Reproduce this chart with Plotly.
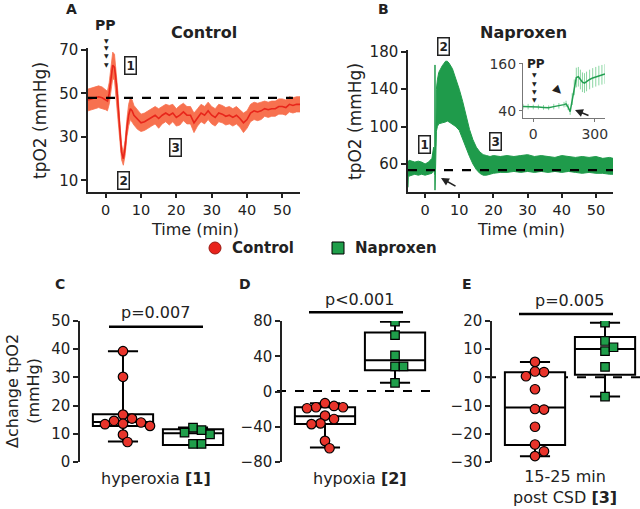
import plotly.graph_objects as go

# ---------------- data ----------------
# Panel A: control tpO2 time course (mean and half-width of band)
ctrl_t = [-5, -4, -3, -2, -1, 0, 0.5, 1, 1.5, 2, 2.5, 3, 3.5, 4, 4.5, 5, 5.5, 6, 6.5, 7, 7.5,
          8, 9, 10, 11, 12, 13, 14, 15, 16, 17, 18, 19, 20, 21, 22, 23, 24, 25, 26, 27, 28, 29,
          30, 31, 32, 33, 34, 35, 36, 37, 38, 39, 40, 41, 42, 43, 44, 45, 46, 47, 48, 49, 50,
          51, 52, 53, 54, 55]
ctrl_mean = [47, 47.5, 48, 48.5, 48, 47, 46.5, 50, 57, 63, 62, 55, 45, 33, 23, 20, 25, 34, 40, 43, 42,
             40, 38, 36.5, 37, 38, 39, 40, 38.5, 40, 41, 40, 41, 39, 40, 41.5, 40, 40, 36.5, 39, 41, 40, 42,
             40, 39, 41, 40.5, 39.5, 40, 39, 40, 38.5, 36.5, 38, 41, 42, 41.5, 42, 43, 42.5, 43, 43, 44, 44,
             43.5, 45, 44.5, 45, 45]
ctrl_hw = [5, 5, 5, 5, 5, 4.5, 4.5, 5, 6, 6, 6, 5, 5, 4, 3.5, 3, 3.5, 4, 5, 5, 5,
           4.5, 4.5, 4, 4, 4, 4, 4, 4.5, 4, 4, 4.5, 4, 4, 4.5, 4, 4, 4, 4.5, 4, 4, 4, 4,
           4, 4, 4, 4, 4, 4, 4, 4, 4, 4.5, 4, 4, 4, 4, 4, 3.5, 3.5, 3.5, 3.5, 3.5, 3.5,
           3.5, 3.5, 3.5, 3.5, 3.5]
ctrl_baseline = 48

# Panel B: naproxen tpO2 time course (upper / lower envelope)
nap_t = [-5, -4.9, -4.7, -4, -3, -2, -1, 0, 1, 2, 2.5, 2.85, 2.9, 2.95, 3.1, 3.3, 3.6, 4, 5, 6,
         6.5, 7, 8, 9, 10, 11, 12, 13, 14, 15, 16, 17, 18, 19, 20, 22, 24, 26, 28, 30, 32, 34,
         36, 38, 40, 42, 44, 46, 48, 50, 52, 54, 55]
nap_hi = [62, 62, 64, 63, 62, 63, 62, 60, 62, 66, 78, 72, 166, 75, 80, 140, 150, 158, 165, 170,
          170, 168, 162, 152, 140, 127, 112, 97, 86, 78, 73, 70, 69, 68, 69, 68, 69, 68, 69, 70,
          68, 69, 68, 67, 69, 68, 67, 68, 67, 68, 66, 67, 66]
nap_lo = [35, 46, 47, 48, 49, 48, 49, 48, 49, 50, 54, 48, 32, 50, 60, 95, 100, 103, 104, 105,
          106, 105, 103, 100, 96, 88, 78, 68, 60, 54, 50, 48, 48, 49, 50, 51, 51, 52, 51, 52,
          51, 52, 51, 52, 51, 52, 51, 50, 51, 50, 50, 49, 49]
nap_baseline = 53.5

# Inset of panel B (seconds)
ins_t = [-50, -25, 0, 25, 50, 75, 100, 125, 150, 160, 170, 180, 190, 200, 210, 220, 230, 240,
         250, 260, 275, 290, 305, 320, 335, 350]
ins_y = [51, 51, 50, 50, 49, 48, 51, 53, 56, 58, 50, 38, 70, 100, 125, 127, 120, 113, 111, 115,
         120, 124, 127, 130, 132, 134]
ins_err = [7, 7, 6, 6, 6, 6, 7, 7, 7, 8, 8, 8, 15, 20, 25, 25, 25, 25, 25, 25, 25, 25, 25, 25, 25, 25]

# Panels C-E: individual values
c_ctrl = [39.3, 30.2, 16.8, 15.4, 14.0, 13.4, 12.8, 13.6, 14.6, 9.7, 7.1]
c_nap = [12.2, 10.4, 9.8, 11.3, 6.4, 6.4]
d_ctrl = [-13.3, -17.9, -19, -17.9, -16.4, -27.4, -36.2, -37, -31.2, -56, -64.4]
d_nap = [79.2, 64, 41.1, 28.6, 28.6, 9.9]
e_ctrl = [5.5, 1.9, 2.1, 0.4, -4.2, -11.2, -11.4, -17.5, -23.8, -26.2, -27.9]
e_nap = [19.4, 12.9, 9.3, 10.7, 3.7, -6.8]

# Box statistics [control, naproxen]: lower whisker, q1, median, q3, upper whisker
c_box = dict(lo=[7.3, 6.0], q1=[12.8, 6.0], med=[14.2, 10.2], q3=[16.9, 11.6], hi=[39.3, 12.2])
d_box = dict(lo=[-63.6, 10], q1=[-37, 24], med=[-28.2, 35.4], q3=[-17.9, 67], hi=[-13.3, 79.2])
e_box = dict(lo=[-28, -6.8], q1=[-24, 0.95], med=[-10.7, 10.1], q3=[1.8, 14.3], hi=[5.5, 19.4])

p_texts = ["p=0.007", "p<0.001", "p=0.005"]
cat_labels = ["hyperoxia <b>[1]</b>", "hypoxia <b>[2]</b>", "15-25 min<br>post CSD <b>[3]</b>"]

# ---------------- layout helpers ----------------
W, H = 640, 509
FONT = "DejaVu Sans"
RED_BAND, RED_LINE = "#f7714f", "#e8261b"
GREEN = "#1f9b4b"
RED_DOT, GREEN_DOT = "#e8342b", "#1f9e4a"
AX = "#222222"


def fx(px):
    return px / W


def fy(py):
    return 1 - py / H


fig = go.Figure()

# ---- Panel A ----
upper = [m + h for m, h in zip(ctrl_mean, ctrl_hw)]
lower = [m - h for m, h in zip(ctrl_mean, ctrl_hw)]
fig.add_trace(go.Scatter(x=ctrl_t + ctrl_t[::-1], y=upper + lower[::-1], fill="toself",
                         fillcolor=RED_BAND, line=dict(width=0.8, color=RED_BAND),
                         mode="lines", xaxis="x", yaxis="y", hoverinfo="skip"))
fig.add_trace(go.Scatter(x=ctrl_t, y=ctrl_mean, mode="lines", line=dict(color=RED_LINE, width=1.6),
                         xaxis="x", yaxis="y"))

# ---- Panel B ----
fig.add_trace(go.Scatter(x=nap_t + nap_t[::-1], y=nap_hi + nap_lo[::-1], fill="toself",
                         fillcolor=GREEN, line=dict(width=1, color=GREEN),
                         mode="lines", xaxis="x2", yaxis="y2", hoverinfo="skip"))

# ---- Inset ----
fig.add_trace(go.Scatter(x=ins_t, y=ins_y, mode="lines", line=dict(color="#239f52", width=1.5),
                         error_y=dict(type="data", array=ins_err, color="#8ad6a2", thickness=1, width=0),
                         xaxis="x3", yaxis="y3"))


# ---- Panels C-E ----
def swarm(vals, ppu, d=9.0, upx=70.0):
    order = sorted(range(len(vals)), key=lambda i: vals[i], reverse=True)
    placed = []
    off = [0.0] * len(vals)
    s = d * 0.5
    for i in order:
        y = vals[i] * ppu
        k = 0
        done = False
        while not done:
            cands = [0.0] if k == 0 else [k * s, -k * s]
            for c in cands:
                if all((c - a) ** 2 + (y - b) ** 2 >= (d * 0.92) ** 2 for a, b in placed):
                    off[i] = c / upx
                    placed.append((c, y))
                    done = True
                    break
            k += 1
    return off


panels = [
    ("x4", "y4", c_ctrl, c_nap, c_box, 141 / 50),
    ("x5", "y5", d_ctrl, d_nap, d_box, 141 / 160),
    ("x6", "y6", e_ctrl, e_nap, e_box, 141 / 50),
]
for xa, ya, vc, vn, bx, ppu in panels:
    for j in range(2):
        fig.add_trace(go.Box(x=[j], q1=[bx["q1"][j]], median=[bx["med"][j]], q3=[bx["q3"][j]],
                             lowerfence=[bx["lo"][j]], upperfence=[bx["hi"][j]],
                             width=0.86, whiskerwidth=0.5, fillcolor="white",
                             line=dict(color="black", width=2), boxpoints=False,
                             xaxis=xa, yaxis=ya))
    oc = swarm(vc, ppu)
    on = swarm(vn, ppu, d=8.5)
    fig.add_trace(go.Scatter(x=[0 + o for o in oc], y=vc, mode="markers",
                             marker=dict(symbol="circle", size=9.5, color=RED_DOT,
                                         line=dict(color="black", width=1.2)),
                             xaxis=xa, yaxis=ya))
    fig.add_trace(go.Scatter(x=[1 + o for o in on], y=vn, mode="markers",
                             marker=dict(symbol="square", size=8.5, color=GREEN_DOT,
                                         line=dict(color="black", width=1.2)),
                             xaxis=xa, yaxis=ya))

# ---------------- axes ----------------
def axis_style(**kw):
    d = dict(showline=True, linecolor=AX, linewidth=1.5, ticks="outside", ticklen=5,
             tickwidth=1.5, tickcolor=AX, showgrid=False, zeroline=False,
             tickfont=dict(family=FONT, size=15, color="#222"), fixedrange=True)
    d.update(kw)
    return d


def dom(a, b, top, bottom):
    return [fx(a), fx(b)], [fy(bottom), fy(top)]


xdA, ydA = dom(88, 300, 48, 192)
xdB, ydB = dom(408, 613, 50, 192)
xdI, ydI = dom(523, 605, 63, 118)
xdC, ydC = dom(80, 226, 321, 462)
xdD, ydD = dom(282, 428, 321, 462)
xdE, ydE = dom(492, 638, 321, 462)

time_tick_font = dict(family=FONT, size=14.5, color="#222")
cat_range = [-0.614, 1.471]
layout = dict(
    width=W, height=H, margin=dict(l=0, r=0, t=0, b=0, autoexpand=False),
    paper_bgcolor="white", plot_bgcolor="rgba(0,0,0,0)", showlegend=False,
    font=dict(family=FONT, color="#222"),
    xaxis=axis_style(domain=xdA, range=[-5, 55], tickvals=[0, 10, 20, 30, 40, 50], anchor="y",
                     ticklen=4, tickfont=time_tick_font),
    yaxis=axis_style(domain=ydA, range=[4.7, 70.9], tickvals=[10, 30, 50, 70], anchor="x"),
    xaxis2=axis_style(domain=xdB, range=[-5, 55], tickvals=[0, 10, 20, 30, 40, 50], anchor="y2",
                      ticklen=4, tickfont=time_tick_font),
    yaxis2=axis_style(domain=ydB, range=[30, 182], tickvals=[60, 100, 140, 180], anchor="x2"),
    xaxis3=axis_style(domain=xdI, range=[-50, 350], tickvals=[0, 300], anchor="y3", linewidth=1,
                      linecolor="#777", tickcolor="#777", ticklen=3, tickwidth=1,
                      tickfont=dict(family=FONT, size=14, color="#333")),
    yaxis3=axis_style(domain=ydI, range=[22, 162], tickvals=[40, 160], anchor="x3", linewidth=1,
                      linecolor="#777", tickcolor="#777", ticklen=3, tickwidth=1,
                      tickfont=dict(family=FONT, size=14, color="#333")),
    xaxis4=dict(domain=xdC, range=cat_range, visible=False, anchor="y4", fixedrange=True),
    yaxis4=axis_style(domain=ydC, range=[0, 50], tickvals=[0, 10, 20, 30, 40, 50], anchor="x4"),
    xaxis5=dict(domain=xdD, range=cat_range, visible=False, anchor="y5", fixedrange=True),
    yaxis5=axis_style(domain=ydD, range=[-80, 80], tickvals=[-80, -40, 0, 40, 80], anchor="x5"),
    xaxis6=dict(domain=xdE, range=cat_range, visible=False, anchor="y6", fixedrange=True),
    yaxis6=axis_style(domain=ydE, range=[-30, 20], tickvals=[-30, -20, -10, 0, 10, 20], anchor="x6"),
)
fig.update_layout(**layout)

# ---------------- shapes ----------------
shapes = []
# baselines
shapes.append(dict(type="line", xref="x", yref="y", x0=-5, x1=53, y0=ctrl_baseline, y1=ctrl_baseline,
                   line=dict(color="black", width=2.2, dash="dash")))
shapes.append(dict(type="line", xref="x2", yref="y2", x0=-5, x1=55, y0=nap_baseline, y1=nap_baseline,
                   line=dict(color="black", width=2.2, dash="dash")))
# zero lines in D and E (extend slightly beyond axes)
shapes.append(dict(type="line", xref="paper", yref="paper", x0=fx(277), x1=fx(432), y0=fy(391), y1=fy(391),
                   line=dict(color="black", width=2, dash="dash"), layer="below"))
shapes.append(dict(type="line", xref="paper", yref="paper", x0=fx(487), x1=fx(640), y0=fy(377.3), y1=fy(377.3),
                   line=dict(color="black", width=2, dash="dash"), layer="below"))
# p-value bars
for x0, x1, yy in [(109, 203, 326.7), (309, 403, 312.3), (519, 613, 314)]:
    shapes.append(dict(type="line", xref="paper", yref="paper", x0=fx(x0), x1=fx(x1), y0=fy(yy), y1=fy(yy),
                       line=dict(color="black", width=2.5)))
# legend symbols
shapes.append(dict(type="circle", xref="paper", yref="paper", x0=fx(209), x1=fx(221), y0=fy(254), y1=fy(242),
                   fillcolor="#e8231c", line=dict(color="#9a1a12", width=1)))
shapes.append(dict(type="rect", xref="paper", yref="paper", x0=fx(332), x1=fx(344), y0=fy(254), y1=fy(242),
                   fillcolor=GREEN_DOT, line=dict(color="black", width=1)))
fig.update_layout(shapes=shapes)

# ---------------- annotations ----------------
ann = []


def text(px, py, t, size=15, bold=False, angle=0, xanchor="center", color="#222", **kw):
    ann.append(dict(x=fx(px), y=fy(py), xref="paper", yref="paper", text=(f"<b>{t}</b>" if bold else t),
                    showarrow=False, xanchor=xanchor, yanchor="middle", textangle=angle,
                    font=dict(family=FONT, size=size, color=color), **kw))


def boxed(px, py, t):
    ann.append(dict(x=fx(px), y=fy(py), xref="paper", yref="paper", text=f"<b>{t}</b>", showarrow=False,
                    font=dict(family=FONT, size=12, color="#222"), bordercolor="#222", borderwidth=1.5,
                    borderpad=1, bgcolor="white", xanchor="center", yanchor="middle"))


def arrow(hx, hy, tx, ty, size=1.0, width=1.6):
    ann.append(dict(x=fx(hx), y=fy(hy), xref="paper", yref="paper", ax=tx - hx, ay=ty - hy,
                    axref="pixel", ayref="pixel", text="", showarrow=True, arrowhead=2,
                    arrowsize=size, arrowwidth=width, arrowcolor="#222"))


# panel letters
for px, py, t in [(71, 9, "A"), (383, 9, "B"), (60, 284, "C"), (245, 284, "D"), (467, 284, "E")]:
    text(px, py, t, size=14, bold=True)
# titles
text(204, 33, "Control", size=16, bold=True)
text(523, 33, "Naproxen", size=16, bold=True)
# axis titles
text(40, 121, "tpO2 (mmHg)", size=17, angle=-90)
text(355, 122, "tpO2 (mmHg)", size=17, angle=-90)
text(195, 229, "Time (min)", size=16)
text(521, 229, "Time (min)", size=16)
text(23, 391, "Δchange tpO2<br>(mmHg)", size=16, angle=-90)
# PP markers
text(105, 25, "PP", size=14, bold=True)
for yy in [40, 48, 56, 64]:
    text(106, yy, "▼", size=6)
text(536, 64, "PP", size=12, bold=True)
for yy in [75, 83, 91, 99]:
    text(534, yy, "▼", size=6)
# inset arrowhead and arrow
text(557, 90, "▼", size=11, angle=-45)
arrow(575, 110, 590, 116)
# boxed numbers
boxed(130, 65, "1")
boxed(123, 180, "2")
boxed(175, 147, "3")
boxed(443, 47, "2")
boxed(424, 144, "1")
boxed(495, 142, "3")
# arrow in B
arrow(441, 178, 457, 187)
# legend texts
text(230, 248, "Control", size=15, bold=True, xanchor="left")
text(353, 248, "Naproxen", size=15, bold=True, xanchor="left")
# p-values
text(155, 312, p_texts[0], size=16)
text(359, 299, p_texts[1], size=16)
text(569, 300, p_texts[2], size=16)
# category labels
text(156, 478, cat_labels[0], size=16)
text(360, 478, cat_labels[1], size=16)
text(565, 487, cat_labels[2], size=16)

fig.update_layout(annotations=ann)
fig.write_html("out.html", config={"displayModeBar": False},
               post_script="document.body.style.margin='0';document.body.style.overflow='hidden';")
